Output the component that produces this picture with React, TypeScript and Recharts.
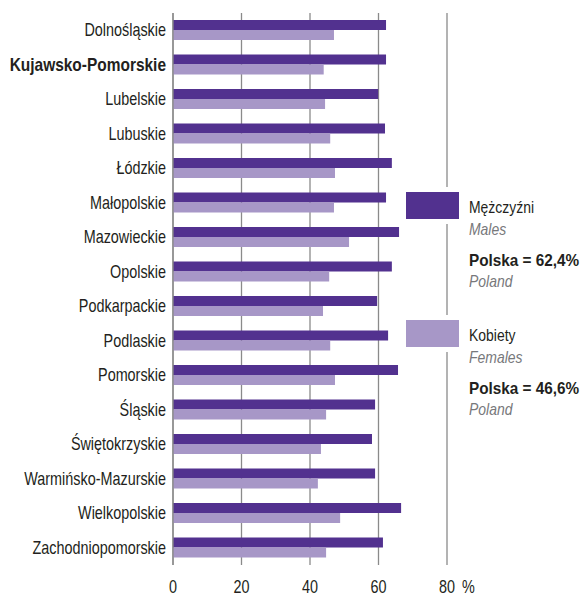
import { Bar, BarChart, CartesianGrid, Legend, XAxis, YAxis } from "recharts"

const categories = [
  "Dolnośląskie",
  "Kujawsko-Pomorskie",
  "Lubelskie",
  "Lubuskie",
  "Łódzkie",
  "Małopolskie",
  "Mazowieckie",
  "Opolskie",
  "Podkarpackie",
  "Podlaskie",
  "Pomorskie",
  "Śląskie",
  "Świętokrzyskie",
  "Warmińsko-Mazurskie",
  "Wielkopolskie",
  "Zachodniopomorskie",
]
const males = [62.2, 62.2, 59.9, 61.9, 63.9, 62.2, 66.0, 63.9, 59.6, 62.8, 65.7, 59.0, 58.1, 59.0, 66.6, 61.3]
const females = [47.0, 44.0, 44.4, 45.9, 47.3, 47.0, 51.4, 45.6, 43.8, 45.9, 47.3, 44.7, 43.2, 42.3, 48.8, 44.7]
const xTicks = [0, 20, 40, 60, 80]
const highlighted = "Kujawsko-Pomorskie"
const seriesNames = ["Mężczyźni", "Kobiety"]
const seriesNamesEn = ["Males", "Females"]
const polandValues = ["62,4%", "46,6%"]

const data = categories.map((region, i) => ({ region, males: males[i], females: females[i] }))

// no narrow font installed, so squeeze Liberation Sans like Arial Narrow
const FONT = "'Liberation Sans', Arial, sans-serif"
const SQUEEZE = 0.8
const SQUEEZE_BOLD = 0.86
const DARK = "#52318f"
const LIGHT = "#a797c7"
const TEXT = "#231f20"
const SUB = "#77787b"

function RegionTick({ x, y, payload }: any) {
  const bold = payload.value === highlighted
  return (
    <text transform={`translate(${x},${y}) scale(${bold ? SQUEEZE_BOLD : SQUEEZE},1)`} dy={6} textAnchor="end"
      fontFamily={FONT} fontSize={18} fill={TEXT} fontWeight={bold ? 700 : 400}>
      {payload.value}
    </text>
  )
}

function PercentTick({ x, y, payload }: any) {
  return (
    <g transform={`translate(${x},${y})`}>
      <text transform={`scale(${SQUEEZE},1)`} dy={28} textAnchor="middle" fontFamily={FONT} fontSize={18} fill={TEXT}>
        {payload.value}
      </text>
      {payload.value === 80 && (
        <text transform={`translate(15,0) scale(${SQUEEZE},1)`} dy={28} textAnchor="start" fontFamily={FONT}
          fontSize={18} fill={TEXT}>%</text>
      )}
    </g>
  )
}

function LegendLine({ top, children, style, squeeze = 0.82 }: any) {
  return (
    <div style={{ position: "absolute", left: 469, top, whiteSpace: "nowrap", transform: `scaleX(${squeeze})`,
      transformOrigin: "left top", ...style }}>
      {children}
    </div>
  )
}

function SideLegend({ payload }: any) {
  const tops = [192, 320]
  const items = seriesNames.map((name) => (payload || []).find((p: any) => p.value === name)).filter(Boolean)
  return (
    <div style={{ position: "relative", width: 587, height: 595, fontFamily: FONT, fontSize: 17, lineHeight: "20px" }}>
      {items.map((item: any, i: number) => (
        <div key={item.value}>
          <div style={{ position: "absolute", left: 406, top: tops[i], width: 53, height: 27, background: item.color,
            boxShadow: "0 0 0 5px #fff" }} />
          <LegendLine top={tops[i] + 6} style={{ color: TEXT }}>{item.value}</LegendLine>
          <LegendLine top={tops[i] + 28} style={{ color: SUB, fontStyle: "italic" }}>{seriesNamesEn[i]}</LegendLine>
          <LegendLine top={tops[i] + 59} squeeze={0.9} style={{ color: TEXT, fontWeight: 700 }}>
            Polska = {polandValues[i]}
          </LegendLine>
          <LegendLine top={tops[i] + 80} style={{ color: SUB, fontStyle: "italic" }}>Poland</LegendLine>
        </div>
      ))}
    </div>
  )
}

export default function App() {
  return (
    <div style={{ position: "absolute", left: 0, top: 0, background: "#fff" }}>
      <BarChart width={587} height={595} data={data} layout="vertical"
        margin={{ top: 13, right: 140, bottom: 0, left: 0 }} barSize={10} barGap={0}>
        <CartesianGrid horizontal={false} stroke="#8a8a8a" strokeWidth={1.3} />
        <XAxis type="number" domain={[0, 80]} ticks={xTicks} axisLine={false} tickLine={false}
          tickSize={0} tickMargin={0} height={30} tick={<PercentTick />} />
        <YAxis type="category" dataKey="region" width={173} axisLine={{ stroke: "#8a8a8a", strokeWidth: 1.3 }}
          tickLine={false} tickSize={5} tickMargin={2} tick={<RegionTick />} interval={0} />
        <Legend layout="horizontal" verticalAlign="middle" align="center"
          wrapperStyle={{ left: 0, top: 0, width: 587, height: 595, pointerEvents: "none" }}
          content={<SideLegend />} />
        <Bar dataKey="males" name={seriesNames[0]} fill={DARK} isAnimationActive={false} />
        <Bar dataKey="females" name={seriesNames[1]} fill={LIGHT} isAnimationActive={false} />
      </BarChart>
    </div>
  )
}
